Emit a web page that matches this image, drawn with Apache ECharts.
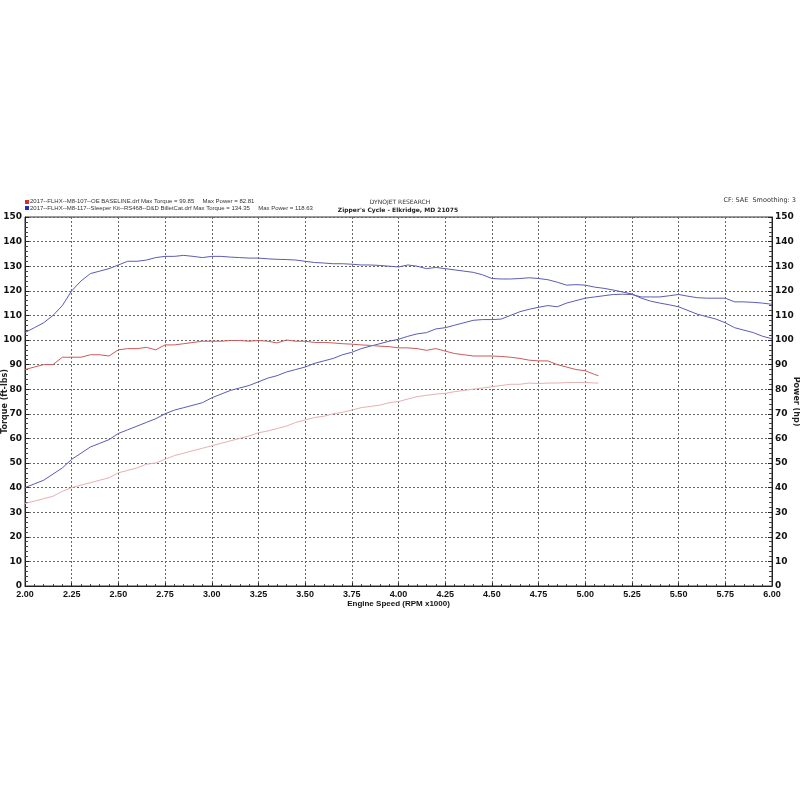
<!DOCTYPE html>
<html>
<head>
<meta charset="utf-8">
<script src="https://cdn.jsdelivr.net/npm/echarts@6/dist/echarts.min.js"></script>
<style>html,body{margin:0;padding:0;background:#fff}#c{width:800px;height:800px}</style>
</head>
<body>
<div id="c"></div>
<script>
// RPM (x1000) sample points
const rpmBlue = [2.00,2.05,2.10,2.15,2.20,2.25,2.30,2.35,2.40,2.45,2.50,2.55,2.60,2.65,2.70,2.75,2.80,2.85,2.90,2.95,3.00,3.05,3.10,3.15,3.20,3.25,3.30,3.35,3.40,3.45,3.50,3.55,3.60,3.65,3.70,3.75,3.80,3.85,3.90,3.95,4.00,4.05,4.10,4.15,4.20,4.25,4.30,4.35,4.40,4.45,4.50,4.55,4.60,4.65,4.70,4.75,4.80,4.85,4.90,4.95,5.00,5.05,5.10,5.15,5.20,5.25,5.30,5.35,5.40,5.45,5.50,5.55,5.60,5.65,5.70,5.75,5.80,5.85,5.90,5.95,6.00];
const torqueBlue = [103,105,107,110,114,120,124,127,128,129,130.5,132,132,132.5,133.5,134,134,134.4,134,133.5,134,134,133.7,133.5,133.3,133.3,133,132.8,132.7,132.5,132,131.5,131.3,131,131,130.8,130.5,130.5,130.3,130,129.7,130.5,130,129,129.5,129,128.5,128,127.5,126.5,125,124.8,124.8,125,125.3,125,124.5,123.5,122.3,122.5,122.3,121.5,121,120.3,119.5,118.7,117,115.8,115,114.3,113.5,112,110.5,109.5,108.5,107,105,104,103,101.5,100.5];
const powerBlue = [40,41.5,43,45.5,48,51.5,54,56.5,58,59.5,62,63.5,65,66.5,68,70,71.5,72.5,73.5,74.5,76.5,78,79.5,80.5,81.5,83,84.5,85.5,87,88,89,90.5,91.5,92.5,94,95,96.5,97.5,98.5,99.5,100.3,101.5,102.5,103,104.5,105,106,107,108,108.3,108.3,108.5,110,111.5,112.5,113.3,114,113.5,115,116,117,117.5,118,118.5,118.6,118.5,117.5,117.5,117.5,118,118.5,117.8,117.2,117,117,117,115.5,115.5,115.3,115,114.5];
const rpmRed = [2.00,2.05,2.10,2.15,2.20,2.25,2.30,2.35,2.40,2.45,2.50,2.55,2.60,2.65,2.70,2.75,2.80,2.85,2.90,2.95,3.00,3.05,3.10,3.15,3.20,3.25,3.30,3.35,3.40,3.45,3.50,3.55,3.60,3.65,3.70,3.75,3.80,3.85,3.90,3.95,4.00,4.05,4.10,4.15,4.20,4.25,4.30,4.35,4.40,4.45,4.50,4.55,4.60,4.65,4.70,4.75,4.80,4.85,4.90,4.95,5.00,5.05,5.07];
const torqueRed = [88,89,90,90,93,93,93,94,94,93.5,96,96.5,96.5,97,96,98,98,98.5,99,99.5,99.5,99.5,99.8,99.8,99.5,99.8,99.5,98.8,100,99.5,99.5,99,99,98.8,98.5,98.3,98,97.8,97.5,97.3,96.8,96.8,96.5,95.8,96.5,95.5,94.5,94,93.5,93.5,93.5,93.3,93,92.5,91.8,91.5,91.5,90,89,88,87.5,86,85.5];
const powerRed = [33.5,34.5,35.5,36.5,38.5,40,41,42,43,44,46,47,48,49.5,50,51.5,53,54,55,56,57,58,59,60,61,62.3,63,64,65,66.5,67.5,68.5,69,70,70.6,71.5,72.5,73,73.5,74.5,75,76,77,77.5,78,78.3,79,79.5,80,80.5,81,81.5,82,82,82.5,82.3,82.5,82.5,82.7,82.7,82.8,82.5,82.5];
const yTicks = {min: 0, max: 150, interval: 10};
const xTicks = {min: 2, max: 6, interval: 0.25};

const pair = (xs, ys) => xs.map((x, i) => [x, ys[i]]);
const BLUE = '#5b5cb5', RED = '#cc5a5a', PINK = '#e8b0b0';
const lblFont = {fontFamily: 'DejaVu Sans', fontWeight: 'bold', fontSize: 9, color: '#111'};
const yAxisBase = {
  type: 'value', min: yTicks.min, max: yTicks.max, interval: yTicks.interval,
  axisLine: {show: true, lineStyle: {color: '#222', width: 1}},
  axisTick: {show: true, length: 4, inside: true, lineStyle: {color: '#222'}},
  minorTick: {show: true, splitNumber: 5, length: 3, lineStyle: {color: '#444'}},
  axisLabel: Object.assign({margin: 3}, lblFont),
  nameLocation: 'middle', nameMoveOverlap: false,
  nameTextStyle: {fontFamily: 'DejaVu Sans', fontWeight: 'bold', fontSize: 8, color: '#222'}
};
const chart = echarts.init(document.getElementById('c'), null, {renderer: 'canvas'});
chart.setOption({
  animation: false,
  backgroundColor: '#fff',
  grid: {left: 25, right: 28, top: 217, bottom: 214, containLabel: false, outerBoundsMode: 'none', show: true, borderColor: '#333', borderWidth: 1},
  xAxis: {
    type: 'value', min: xTicks.min, max: xTicks.max, interval: xTicks.interval,
    name: 'Engine Speed (RPM x1000)', nameLocation: 'middle', nameGap: 14, nameMoveOverlap: false,
    nameTextStyle: {fontFamily: 'Liberation Sans Narrow, Liberation Sans', fontWeight: 'bold', fontSize: 8, color: '#111'},
    axisLine: {show: true, lineStyle: {color: '#222'}},
    axisTick: {show: true, length: 3, inside: true, lineStyle: {color: '#222'}},
    minorTick: {show: true, splitNumber: 5, length: 2, lineStyle: {color: '#444'}},
    axisLabel: {formatter: v => v.toFixed(2), margin: 4, fontFamily: 'Liberation Sans Narrow, Liberation Sans', fontWeight: 'bold', fontSize: 9, color: '#111'},
    splitLine: {show: true, lineStyle: {type: [2, 2], color: '#666', width: 1}}
  },
  yAxis: [
    Object.assign({}, yAxisBase, {position: 'left', name: 'Torque (ft-lbs)', nameGap: 16,
      splitLine: {show: true, lineStyle: {type: [2, 2], color: '#666', width: 1}}}),
    Object.assign({}, yAxisBase, {position: 'right', name: 'Power (hp)', nameGap: 20, nameRotate: -90,
      splitLine: {show: false}})
  ],
  series: [
    {name: 'Torque M8-117', type: 'line', yAxisIndex: 0, data: pair(rpmBlue, torqueBlue), showSymbol: false, lineStyle: {color: BLUE, width: 1}, itemStyle: {color: BLUE}},
    {name: 'Power M8-117', type: 'line', yAxisIndex: 1, data: pair(rpmBlue, powerBlue), showSymbol: false, lineStyle: {color: BLUE, width: 1}, itemStyle: {color: BLUE}},
    {name: 'Torque M8-107', type: 'line', yAxisIndex: 0, data: pair(rpmRed, torqueRed), showSymbol: false, lineStyle: {color: RED, width: 1}, itemStyle: {color: RED}},
    {name: 'Power M8-107', type: 'line', yAxisIndex: 1, data: pair(rpmRed, powerRed), showSymbol: false, lineStyle: {color: PINK, width: 1}, itemStyle: {color: PINK}}
  ],
  graphic: [
    {type: 'rect', shape: {x: 25, y: 200, width: 4, height: 4}, style: {fill: '#d03030'}},
    {type: 'rect', shape: {x: 25, y: 206, width: 4, height: 4}, style: {fill: '#2030c0'}},
    {type: 'text', left: 30, top: 198, style: {text: '2017--FLHX--M8-107--OE BASELINE.drf Max Torque = 99.85     Max Power = 82.81', font: '6px "Liberation Sans Narrow", "Liberation Sans", sans-serif', fill: '#333'}},
    {type: 'text', left: 30, top: 205, style: {text: '2017--FLHX--M8-117--Sleeper Kit--RS468--D&D BilletCat.drf Max Torque = 134.35     Max Power = 118.63', font: '6px "Liberation Sans Narrow", "Liberation Sans", sans-serif', fill: '#333'}},
    {type: 'text', x: 400, y: 199, style: {text: 'DYNOJET RESEARCH', align: 'center', font: '6px "DejaVu Sans", sans-serif', fill: '#333'}},
    {type: 'text', x: 398, y: 207, style: {text: "Zipper's Cycle - Elkridge, MD 21075", align: 'center', font: 'bold 6px "DejaVu Sans", sans-serif', fill: '#222'}},
    {type: 'text', x: 796, y: 197, style: {text: 'CF: SAE  Smoothing: 3', align: 'right', font: '6.5px "DejaVu Sans", sans-serif', fill: '#333'}}
  ]
});
</script>
</body>
</html>
